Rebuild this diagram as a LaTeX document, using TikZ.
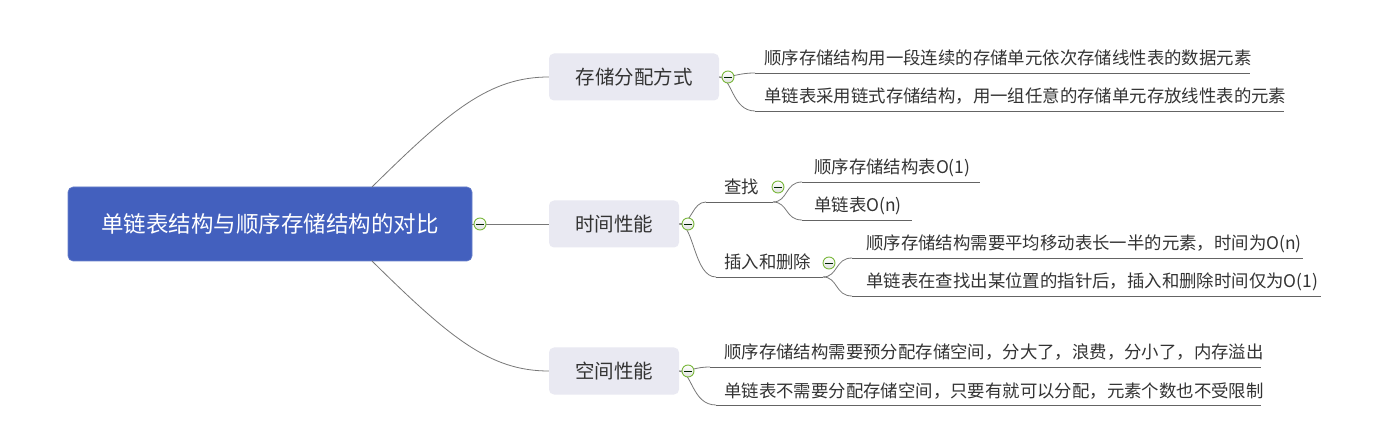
\documentclass[tikz,border=0pt]{standalone}
\usepackage{fontspec}
\setmainfont{Noto Sans CJK SC}
\definecolor{rootblue}{RGB}{67,96,190}
\definecolor{topicfill}{RGB}{233,233,242}
\definecolor{txt}{RGB}{51,51,51}
\definecolor{linecol}{RGB}{120,120,120}
\definecolor{ulcol}{RGB}{100,100,100}
\definecolor{cgreen}{RGB}{122,184,60}
\tikzset{
  rootbox/.style={draw=rootblue!80!white, line width=0.6pt, fill=rootblue, rounded corners=5pt, minimum width=404pt, minimum height=74pt, text=white, font=\fontsize{22.5}{26}\selectfont, inner sep=0pt},
  topicbox/.style={fill=topicfill, rounded corners=5pt, minimum height=47pt, text=txt, font=\fontsize{19.5}{23}\selectfont, inner sep=0pt},
  leaftext/.style={anchor=base west, inner sep=0pt, text=txt, font=\fontsize{17.4}{20}\selectfont},
  conn/.style={draw=linecol, line width=0.8pt},
  uline/.style={draw=ulcol, line width=0.9pt},
  collapse/.style={circle, draw=cgreen, line width=0.9pt, minimum size=12pt, inner sep=0pt,
    top color=white, bottom color=black!12,
    path picture={\draw[black!65!green!40!black, line width=0.9pt] ([xshift=-3.6pt]path picture bounding box.center) -- ([xshift=3.6pt]path picture bounding box.center);}},
}
\begin{document}
\begin{tikzpicture}[x=1pt,y=-1pt]
\useasboundingbox[fill=white] (0,0) rectangle (1374,438);

% root and main topics
\node[rootbox] (root) at (270,224) {单链表结构与顺序存储结构的对比};
\node[topicbox, minimum width=170pt] (ta) at (634,77) {存储分配方式};
\node[topicbox, minimum width=130pt] (tb) at (614,224) {时间性能};
\node[topicbox, minimum width=130pt] (tc) at (614,371) {空间性能};

\coordinate (rtop) at (372,187);
\coordinate (rbot) at (372,261);

% root connectors
\draw[conn] (rtop) .. controls (450,110) and (490,77) .. (ta.west);
\draw[conn] (root.east) -- (tb.west);
\draw[conn] (rbot) .. controls (450,338) and (490,371) .. (tc.west);

% ---------- branch a ----------
\coordinate (a1s) at (755,73);  \coordinate (a1e) at (1250,73);
\coordinate (a2s) at (755,111); \coordinate (a2e) at (1284,111);
\draw[conn] (ta.east) .. controls (735,77) and (738,73) .. (a1s);
\draw[conn] (ta.east) .. controls (732,77) and (732,111) .. (a2s);
\draw[uline] (a1s) -- (a1e);
\draw[uline] (a2s) -- (a2e);
\node[leaftext] (a1) at (764,65) {顺序存储结构用一段连续的存储单元依次存储线性表的数据元素};
\node[leaftext] (a2) at (764,103) {单链表采用链式存储结构，用一组任意的存储单元存放线性表的元素};

% ---------- branch b ----------
\coordinate (fs) at (706,202); \coordinate (fe) at (773,202);
\coordinate (is) at (716,277); \coordinate (ie) at (823,277);
\draw[conn] (tb.east) .. controls (692,224) and (692,202) .. (fs);
\draw[conn] (tb.east) .. controls (694,224) and (694,277) .. (is);
\draw[uline] (fs) -- (fe);
\draw[uline] (is) -- (ie);
\node[leaftext] (find) at (724,194) {查找};
\node[leaftext] (ins) at (724,269) {插入和删除};

\coordinate (f1s) at (802,182); \coordinate (f1e) at (980,182);
\coordinate (f2s) at (802,220); \coordinate (f2e) at (912,220);
\draw[conn] (fe) .. controls (788,202) and (785,182) .. (f1s);
\draw[conn] (fe) .. controls (788,202) and (785,220) .. (f2s);
\draw[uline] (f1s) -- (f1e);
\draw[uline] (f2s) -- (f2e);
\node[leaftext] (f1) at (814,174) {顺序存储结构表O(1)};
\node[leaftext] (f2) at (814,212) {单链表O(n)};

\coordinate (i1s) at (852,258); \coordinate (i1e) at (1303,258);
\coordinate (i2s) at (852,296); \coordinate (i2e) at (1321,296);
\draw[conn] (ie) .. controls (838,277) and (835,258) .. (i1s);
\draw[conn] (ie) .. controls (838,277) and (835,296) .. (i2s);
\draw[uline] (i1s) -- (i1e);
\draw[uline] (i2s) -- (i2e);
\node[leaftext] (i1) at (866,250) {顺序存储结构需要平均移动表长一半的元素，时间为O(n)};
\node[leaftext] (i2) at (866,288) {单链表在查找出某位置的指针后，插入和删除时间仅为O(1)};

% ---------- branch c ----------
\coordinate (c1s) at (710,367); \coordinate (c1e) at (1261,367);
\coordinate (c2s) at (716,405); \coordinate (c2e) at (1261,405);
\draw[conn] (tc.east) .. controls (692,371) and (695,367) .. (c1s);
\draw[conn] (tc.east) .. controls (692,371) and (692,405) .. (c2s);
\draw[uline] (c1s) -- (c1e);
\draw[uline] (c2s) -- (c2e);
\node[leaftext] (c1) at (724,359) {顺序存储结构需要预分配存储空间，分大了，浪费，分小了，内存溢出};
\node[leaftext] (c2) at (724,397) {单链表不需要分配存储空间，只要有就可以分配，元素个数也不受限制};

% collapse markers
\node[collapse] (k0) at (480,224) {};
\node[collapse] (ka) at (728,77) {};
\node[collapse] (kb) at (688,224) {};
\node[collapse] (kc) at (688,371) {};
\node[collapse] (kf) at (778,187) {};
\node[collapse] (ki) at (829,263) {};
\end{tikzpicture}
\end{document}
